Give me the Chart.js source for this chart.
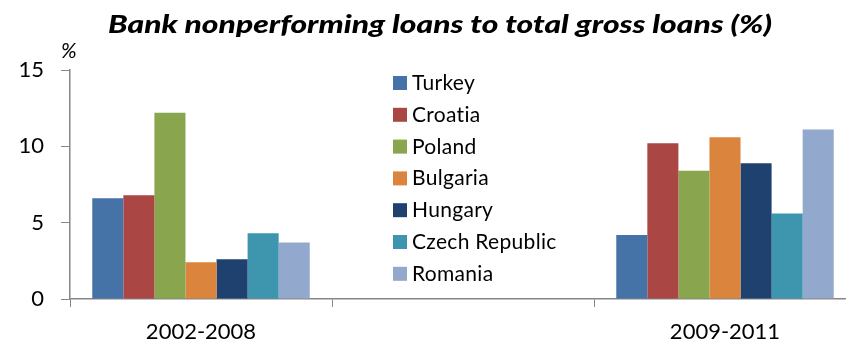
<!DOCTYPE html>
<html>
<head>
<meta charset="utf-8">
<script src="https://cdn.jsdelivr.net/npm/chart.js@4/dist/chart.umd.min.js"></script>
<style>
  html, body { margin: 0; padding: 0; background: #fff; overflow: hidden; }
  #wrap { width: 866px; height: 345px; }
</style>
</head>
<body>
<div id="wrap"><canvas id="c" width="866" height="345"></canvas></div>
<script>
// Periods on the x axis (middle slot is an empty spacer)
const periods = ['2002-2008', '', '2009-2011'];

// Nonperforming loans, % of total gross loans, per country
const turkey   = [6.6, null, 4.2];
const croatia  = [6.8, null, 10.2];
const poland   = [12.2, null, 8.4];
const bulgaria = [2.4, null, 10.6];
const hungary  = [2.6, null, 8.9];
const czech    = [4.3, null, 5.6];
const romania  = [3.7, null, 11.1];

const countries = ['Turkey', 'Croatia', 'Poland', 'Bulgaria', 'Hungary', 'Czech Republic', 'Romania'];
const seriesValues = [turkey, croatia, poland, bulgaria, hungary, czech, romania];
const colors = ['#4572A7', '#AA4643', '#89A54E', '#DB843D', '#1F4170', '#3D96AE', '#92A8CD'];

const yTicks = [0, 5, 10, 15];

const FONT = 'Lato, "Open Sans", sans-serif';
const AXIS = '#868686';

// Title, unit marker and the in-plot legend
const decorations = {
  id: 'decorations',
  afterDraw(chart) {
    const ctx = chart.ctx;
    ctx.save();
    if ('letterSpacing' in ctx) ctx.letterSpacing = '0.01px';
    // title
    const title = 'Bank nonperforming loans to total gross loans (%)';
    ctx.font = 'italic 900 25px ' + FONT;
    ctx.fillStyle = '#000';
    ctx.textBaseline = 'alphabetic';
    const w = ctx.measureText(title).width;
    const target = 664;
    ctx.translate(108, 33);
    ctx.scale(target / w, 1);
    ctx.textAlign = 'left';
    ctx.fillText(title, 0, 0);
    ctx.restore();

    ctx.save();
    if ('letterSpacing' in ctx) ctx.letterSpacing = '0.3px';
    ctx.font = 'italic 21px ' + FONT;
    ctx.fillStyle = '#000';
    ctx.textAlign = 'left';
    ctx.textBaseline = 'alphabetic';
    ctx.fillText('%', 61, 58);

    // legend
    ctx.font = '21px ' + FONT;
    chart.data.datasets.forEach((ds, i) => {
      const y = 76 + i * 31.8;
      ctx.fillStyle = ds.backgroundColor;
      ctx.fillRect(393, y, 14, 14);
      ctx.fillStyle = '#000';
      ctx.fillText(ds.label, 412, y + 14);
    });
    ctx.restore();
  }
};

new Chart(document.getElementById('c'), {
  type: 'bar',
  data: {
    labels: periods,
    datasets: countries.map((name, i) => ({
      label: name,
      data: seriesValues[i],
      backgroundColor: colors[i],
      borderWidth: 0,
      barPercentage: 1,
      categoryPercentage: 0.83
    }))
  },
  options: {
    responsive: false,
    devicePixelRatio: 1,
    animation: false,
    layout: { padding: { top: 70, right: 10, left: 0, bottom: 0 } },
    plugins: {
      legend: { display: false },
      title: { display: false },
      tooltip: { enabled: false }
    },
    scales: {
      x: {
        grid: { display: true, drawOnChartArea: false, drawTicks: true, tickLength: 8, color: AXIS, offset: true },
        border: { display: true, color: AXIS, width: 1.5 },
        ticks: { color: '#000', font: { family: FONT, size: 22 }, padding: 12, maxRotation: 0 },
        afterFit(scale) { scale.height = 46; }
      },
      y: {
        min: 0,
        max: 15,
        afterBuildTicks(scale) { scale.ticks = yTicks.map(v => ({ value: v })); },
        grid: { display: true, drawOnChartArea: false, drawTicks: true, tickLength: 9, color: AXIS },
        border: { display: true, color: AXIS, width: 1.5 },
        ticks: { color: '#000', font: { family: FONT, size: 22 }, padding: 17 },
        afterFit(scale) { scale.width = 70; }
      }
    }
  },
  plugins: [decorations]
});
</script>
</body>
</html>
